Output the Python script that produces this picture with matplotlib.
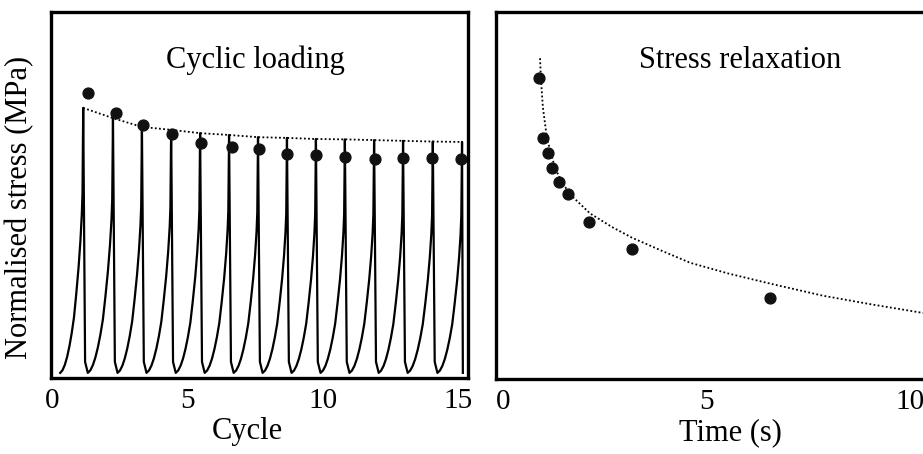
import matplotlib
matplotlib.use("Agg")
import matplotlib.pyplot as plt
import numpy as np

plt.rcParams['font.family'] = ['Liberation Serif', 'DejaVu Serif']

# ---- Cyclic loading data (normalised stress, axis 0..1) ----
peak_x = [1.15, 2.25, 3.32, 4.40, 5.47, 6.54, 7.61, 8.68, 9.75, 10.82, 11.90, 12.97, 14.07, 15.15]
peak_y = [0.738, 0.710, 0.686, 0.678, 0.669, 0.664, 0.658, 0.656, 0.653, 0.652, 0.650, 0.648, 0.646, 0.645]
trace_start_x = 0.30
trough_offset = 0.17
bottom_level = 0.014
rise_t = [0, .1, .2, .3, .4, .5, .6, .7, .8, .88, .94, .97, 1.0]
rise_y = [0, .01, .03, .06, .10, .15, .21, .30, .40, .50, .60, .68, 1.0]

cyc_dot_x = [1.33, 2.36, 3.36, 4.43, 5.50, 6.65, 7.65, 8.68, 9.75, 10.82, 11.93, 12.97, 14.04, 15.11]
cyc_dot_y = [0.779, 0.724, 0.691, 0.667, 0.642, 0.631, 0.626, 0.612, 0.609, 0.604, 0.598, 0.601, 0.601, 0.598]

cycle_ticks = [0, 5, 10, 15]

# ---- Stress relaxation data ----
relax_t = [0.88, 0.98, 1.11, 1.20, 1.38, 1.60, 2.11, 3.17, 6.56]
relax_s = [0.820, 0.656, 0.617, 0.574, 0.536, 0.503, 0.429, 0.355, 0.221]
fit_t = [0.91, 0.93, 0.98, 1.08, 1.28, 1.45, 1.65, 2.14, 2.68, 3.17, 3.91, 4.59, 5.55, 6.56, 7.86, 9.07, 10.32, 11.33]
fit_s = [0.874, 0.820, 0.740, 0.656, 0.574, 0.536, 0.503, 0.451, 0.414, 0.385, 0.349, 0.317, 0.287, 0.260, 0.227, 0.203, 0.180, 0.165]
time_ticks = [0, 5, 10]

W, H = 923, 454
fig = plt.figure(figsize=(W / 100, H / 100), dpi=100)

def px_axes(x0, y0, x1, y1):
    return fig.add_axes([x0 / W, 1 - y1 / H, (x1 - x0) / W, (y1 - y0) / H])

ax1 = px_axes(51, 12, 468, 378)
ax2 = px_axes(496, 12, 960, 379)

# build cyclic trace
xs, ys = [], []
start = trace_start_x
for px, py in zip(peak_x, peak_y):
    amp = py - bottom_level
    for ft, fy in zip(rise_t, rise_y):
        xs.append(start + ft * (px - start))
        ys.append(bottom_level + fy * amp)
    xs.append(px + 0.07)
    ys.append(bottom_level + 0.03)
    xs.append(px + trough_offset)
    ys.append(bottom_level)
    start = px + trough_offset
xs = xs[:-2] + [peak_x[-1] + 0.03]
ys = ys[:-2] + [bottom_level]

ax1.plot(xs, ys, color='black', lw=1.6, solid_joinstyle='round')
ax1.plot(peak_x, peak_y, color='black', lw=1.3, linestyle=(0, (1, 1.3)))
ax1.plot(cyc_dot_x, cyc_dot_y, 'o', color='#111111', ms=7.8, mec='#111111')

ax1.set_xlim(-0.04, 15.37)
ax1.set_ylim(0, 1)
ax1.set_xticks(cycle_ticks)
ax1.set_yticks([])
ax1.set_xlabel('Cycle', fontsize=22)
ax1.xaxis.set_label_coords((247 - 51) / 417, -0.106)
ax1.set_ylabel('Normalised stress (MPa)', fontsize=22)
ax1.yaxis.set_label_coords(-0.04, 0.467)
ax1.text(0.49, 0.869, 'Cyclic loading', transform=ax1.transAxes, ha='center', va='center', fontsize=22)

ax2.plot(fit_t, fit_s, color='black', lw=1.3, linestyle=(0, (1, 1.3)))
ax2.plot(relax_t, relax_s, 'o', color='#111111', ms=7.8, mec='#111111')
ax2.set_xlim((496 - 503) / 40.7, (960 - 503) / 40.7)
ax2.set_ylim(0, 1)
ax2.set_xticks(time_ticks)
ax2.set_yticks([])
ax2.set_xlabel('Time (s)', fontsize=22)
ax2.xaxis.set_label_coords((730 - 496) / 464, -0.106)
ax2.text((740 - 496) / 464, 0.869, 'Stress relaxation', transform=ax2.transAxes, ha='center', va='center', fontsize=22)
ax2.spines['right'].set_visible(False)

for ax in (ax1, ax2):
    for s in ax.spines.values():
        s.set_linewidth(2.4)
        s.set_color('black')
    ax.tick_params(axis='x', length=0, pad=7, labelsize=21)

fig.savefig('out.png', dpi=100)
